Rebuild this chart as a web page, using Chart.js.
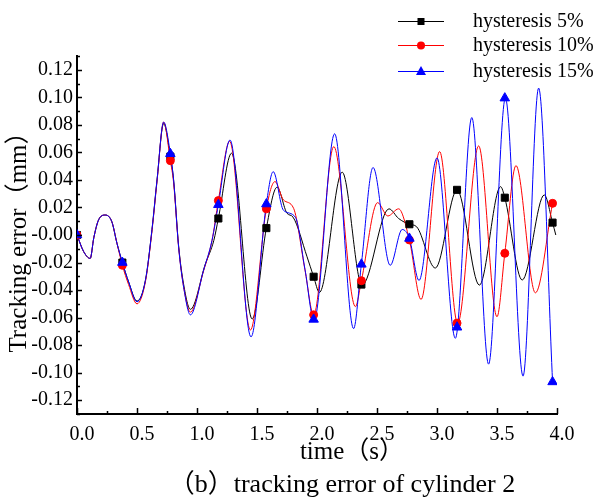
<!DOCTYPE html>
<html>
<head>
<meta charset="utf-8">
<script src="https://cdn.jsdelivr.net/npm/chart.js@4.4.0/dist/chart.umd.min.js"></script>
<style>
  body { margin: 0; background: #fff; }
  canvas { display: block; }
</style>
</head>
<body>
<canvas id="c" width="597" height="498"></canvas>
<script>
// series names
var names = ['hysteresis 5%', 'hysteresis 10%', 'hysteresis 15%'];

// hysteresis 5% (black) - time (s) / error (mm)
var t5 = [0, 0.055, 0.11, 0.14, 0.18, 0.236, 0.29, 0.333, 0.378, 0.43, 0.5, 0.57, 0.625, 0.667, 0.722, 0.778, 0.805, 0.847, 0.889, 0.945, 1.07, 1.14, 1.178, 1.288, 1.46, 1.578, 1.667, 1.75, 1.80, 1.917, 1.972, 2.02, 2.21, 2.375, 2.6, 2.68, 2.77, 2.83, 2.986, 3.167, 3.353, 3.53, 3.565, 3.71, 3.894, 3.963, 3.99];
var e5 = [0, -0.012, -0.017, -0.002, 0.011, 0.0145, 0.0097, -0.006, -0.020, -0.034, -0.048, -0.033, 0.004, 0.040, 0.081, 0.057, 0.040, -0.008, -0.036, -0.054, -0.021, -0.004, 0.012, 0.0594, -0.061, 0.005, 0.0347, 0.0158, 0.013, -0.0158, -0.0303, -0.0417, 0.0456, -0.0364, 0.019, 0.012, 0.0078, 0.006, -0.024, 0.0327, -0.0364, 0.0351, 0.0271, -0.0327, 0.0291, 0.009, 0.0];

// hysteresis 10% (red)
var t10 = [0, 0.055, 0.11, 0.14, 0.18, 0.236, 0.29, 0.333, 0.378, 0.43, 0.5, 0.57, 0.625, 0.667, 0.722, 0.778, 0.805, 0.847, 0.889, 0.945, 1.055, 1.125, 1.178, 1.272, 1.445, 1.578, 1.65, 1.72, 1.805, 1.90, 1.972, 2.14, 2.32, 2.37, 2.505, 2.59, 2.68, 2.77, 2.867, 3.022, 3.172, 3.347, 3.5, 3.565, 3.658, 3.82, 3.963];
var e10 = [0, -0.012, -0.017, -0.002, 0.011, 0.0145, 0.0097, -0.006, -0.022, -0.036, -0.050, -0.034, 0.003, 0.039, 0.082, 0.054, 0.038, -0.009, -0.038, -0.056, -0.026, -0.004, 0.025, 0.068, -0.069, 0.019, 0.0388, 0.0255, 0.0194, -0.0255, -0.058, 0.0642, -0.052, -0.0332, 0.0235, 0.0138, 0.019, -0.0036, -0.0468, 0.0606, -0.0642, 0.0647, -0.0594, -0.0133, 0.0504, -0.042, 0.023];

// hysteresis 15% (blue)
var t15 = [0, 0.055, 0.11, 0.14, 0.18, 0.236, 0.29, 0.333, 0.378, 0.43, 0.5, 0.57, 0.625, 0.667, 0.722, 0.778, 0.805, 0.847, 0.889, 0.945, 1.055, 1.125, 1.178, 1.275, 1.45, 1.578, 1.635, 1.72, 1.82, 1.90, 1.975, 2.147, 2.305, 2.37, 2.467, 2.61, 2.71, 2.77, 2.85, 3.0, 3.153, 3.29, 3.43, 3.57, 3.717, 3.847, 3.963];
var e15 = [0, -0.012, -0.017, -0.002, 0.011, 0.0145, 0.0097, -0.006, -0.020, -0.034, -0.0485, -0.033, 0.004, 0.040, 0.082, 0.059, 0.040, -0.009, -0.038, -0.058, -0.0255, -0.004, 0.022, 0.069, -0.074, 0.0225, 0.046, 0.018, 0.0129, -0.025, -0.062, 0.0735, -0.068, -0.021, 0.049, -0.022, 0.004, -0.0025, -0.033, 0.056, -0.075, 0.0853, -0.0938, 0.0994, -0.1025, 0.1067, -0.1067];

// marker samples
var markT = [0, 0.378, 0.778, 1.178, 1.578, 1.972, 2.37, 2.77, 3.167, 3.565, 3.963];
var mark5 = [0, -0.020, 0.057, 0.012, 0.005, -0.0303, -0.036, 0.0078, 0.0328, 0.0271, 0.009];
var mark10 = [0, -0.022, 0.054, 0.025, 0.019, -0.058, -0.0332, -0.0036, -0.064, -0.0133, 0.023];
var mark15 = [0, -0.020, 0.059, 0.022, 0.0225, -0.0613, -0.0213, -0.0025, -0.067, 0.0994, -0.1067];

// tick labels
var xTicks = [0, 0.5, 1.0, 1.5, 2.0, 2.5, 3.0, 3.5, 4.0];
var yTicks = [-0.12, -0.10, -0.08, -0.06, -0.04, -0.02, 0, 0.02, 0.04, 0.06, 0.08, 0.10, 0.12];

var serif = "'Liberation Serif', 'Noto Sans CJK SC', serif";
Chart.defaults.font.family = serif;
Chart.defaults.color = '#000';

function pts(xs, ys) {
  return xs.map(function (x, i) { return { x: x, y: ys[i] }; });
}

function lineSet(label, xs, ys, color, order) {
  return {
    label: label,
    data: pts(xs, ys),
    borderColor: color,
    borderWidth: 1,
    pointRadius: 0,
    cubicInterpolationMode: 'monotone',
    fill: false,
    order: order
  };
}

function markSet(label, ys, color, style, r, order) {
  return {
    label: label,
    data: pts(markT, ys),
    showLine: false,
    pointStyle: style,
    pointRadius: r,
    pointBackgroundColor: color,
    pointBorderColor: color,
    pointBorderWidth: 1,
    order: order
  };
}

function drawMarker(ctx, style, x, y, color) {
  ctx.fillStyle = color;
  ctx.beginPath();
  if (style === 'rect') {
    ctx.rect(x - 3.5, y - 3.5, 7, 7);
  } else if (style === 'circle') {
    ctx.arc(x, y, 4, 0, Math.PI * 2);
  } else {
    ctx.moveTo(x, y - 5.5);
    ctx.lineTo(x + 5, y + 3.5);
    ctx.lineTo(x - 5, y + 3.5);
    ctx.closePath();
  }
  ctx.fill();
}

// inward tick marks, axis titles, caption and legend
var decor = {
  id: 'decor',
  afterDraw: function (chart) {
    var ctx = chart.ctx;
    var xs = chart.scales.x, ys = chart.scales.y;
    ctx.save();
    ctx.strokeStyle = '#000';
    ctx.lineWidth = 1.5;
    ctx.beginPath();
    for (var i = 0; i <= 16; i++) {
      var px = Math.round(xs.getPixelForValue(i * 0.25)) + 0.5;
      var len = i % 2 === 0 ? 6 : 3;
      ctx.moveTo(px, ys.bottom);
      ctx.lineTo(px, ys.bottom - len);
    }
    for (var j = -13; j <= 13; j++) {
      var py = Math.round(ys.getPixelForValue(j * 0.01)) + 0.5;
      var l2 = j % 2 === 0 ? 5 : 3;
      ctx.moveTo(xs.left, py);
      ctx.lineTo(xs.left + l2, py);
    }
    ctx.stroke();

    ctx.fillStyle = '#000';
    ctx.textBaseline = 'middle';
    ctx.textAlign = 'center';
    ctx.font = '25px ' + serif;
    ctx.fillText('time\uff08s\uff09', 352, 452);
    ctx.font = '26px ' + serif;
    ctx.fillText('\uff08b\uff09tracking error of cylinder 2', 342, 485);

    ctx.save();
    ctx.translate(19, 236);
    ctx.rotate(-Math.PI / 2);
    ctx.font = '25px ' + serif;
    ctx.fillText('Tracking error\uff08mm\uff09', 0, 0);
    ctx.restore();

    var colors = ['#000000', '#ff0000', '#0000ff'];
    var styles = ['rect', 'circle', 'triangle'];
    var rows = [21, 45, 71];
    ctx.font = '20px ' + serif;
    ctx.textAlign = 'left';
    for (var k = 0; k < 3; k++) {
      ctx.strokeStyle = colors[k];
      ctx.lineWidth = 1;
      ctx.beginPath();
      ctx.moveTo(398, rows[k] + 0.5);
      ctx.lineTo(444, rows[k] + 0.5);
      ctx.stroke();
      drawMarker(ctx, styles[k], 421, rows[k] + 0.5, colors[k]);
      ctx.fillStyle = '#000';
      ctx.fillText(names[k], 473, rows[k] + 1);
    }
    ctx.restore();
  }
};

var chart = new Chart(document.getElementById('c').getContext('2d'), {
  type: 'line',
  data: {
    datasets: [
      lineSet(names[0], t5, e5, '#000000', 6),
      lineSet(names[1], t10, e10, '#ff0000', 5),
      lineSet(names[2], t15, e15, '#0000ff', 4),
      markSet(names[0], mark5, '#000000', 'rect', 5, 3),
      markSet(names[1], mark10, '#ff0000', 'circle', 4, 2),
      markSet(names[2], mark15, '#0000ff', 'triangle', 5.5, 1)
    ]
  },
  options: {
    responsive: false,
    animation: false,
    layout: { padding: { top: 56, right: 40, left: 0, bottom: 0 } },
    plugins: { legend: { display: false }, tooltip: { enabled: false } },
    scales: {
      x: {
        type: 'linear',
        min: 0,
        max: 4,
        afterBuildTicks: function (scale) {
          scale.ticks = xTicks.map(function (v) { return { value: v }; });
        },
        afterFit: function (scale) { scale.height = 84; },
        ticks: {
          font: { size: 20 },
          color: '#000',
          padding: 9,
          labelOffset: 5,
          maxRotation: 0,
          autoSkip: false,
          callback: function (v) { return Number(v).toFixed(1); }
        },
        grid: { display: false, drawTicks: false },
        border: { display: true, color: '#000', width: 2 }
      },
      y: {
        min: -0.13,
        max: 0.13,
        afterBuildTicks: function (scale) {
          scale.ticks = yTicks.map(function (v) { return { value: v }; });
        },
        afterFit: function (scale) { scale.width = 77; },
        ticks: {
          font: { size: 20 },
          color: '#000',
          padding: 4,
          autoSkip: false,
          callback: function (v) {
            if (Math.abs(v) < 1e-9) return '-0.00';
            return Number(v).toFixed(2);
          }
        },
        grid: { display: false, drawTicks: false },
        border: { display: true, color: '#000', width: 2 }
      }
    }
  },
  plugins: [decor]
});
</script>
</body>
</html>
